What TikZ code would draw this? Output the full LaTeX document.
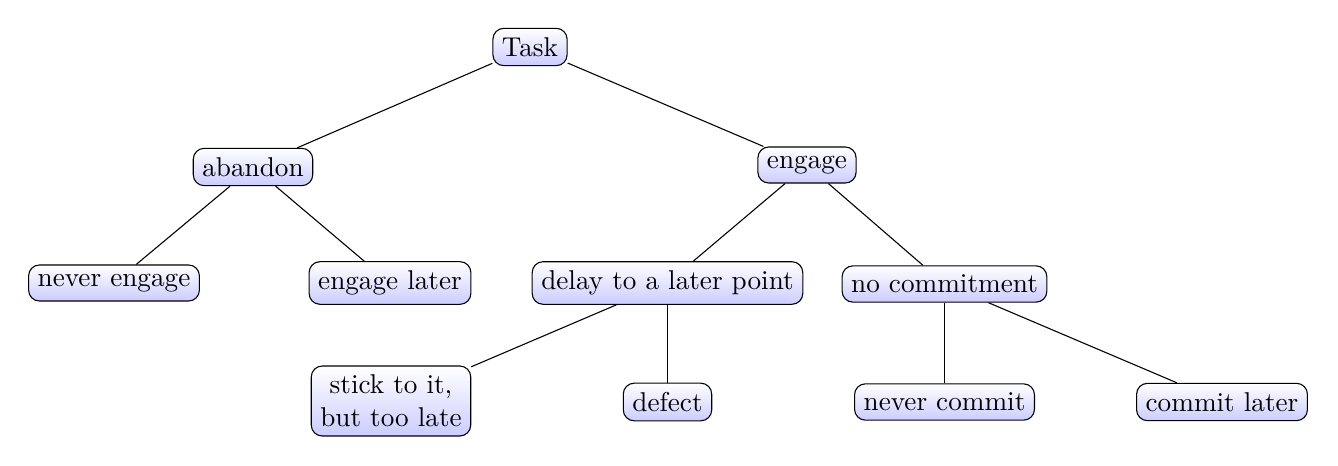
\documentclass[tikz,border=0pt]{standalone}
\begin{document}
\begin{tikzpicture}[x=0.3676pt,y=-0.3676pt,
  tnode/.style={draw,rounded corners=4pt,top color=white,bottom color=blue!20,align=center}]
\useasboundingbox (0,0) rectangle (1338,466);
\node[tnode] (task) at (530,47) {Task};
\node[tnode] (abandon) at (253,167) {abandon};
\node[tnode] (engage) at (807,165) {engage};
\node[tnode] (never) at (114,283) {never engage};
\node[tnode] (later) at (390,283) {engage later};
\node[tnode] (delay) at (667.5,283) {delay to a later point};
\node[tnode] (nocom) at (944.5,284) {no commitment};
\node[tnode] (stick) at (391,401) {stick to it,\\but too late};
\node[tnode] (defect) at (667.5,402) {defect};
\node[tnode] (nevercom) at (944.5,402) {never commit};
\node[tnode] (comlater) at (1222,402) {commit later};
\draw (task) -- (abandon);
\draw (task) -- (engage);
\draw (abandon) -- (never);
\draw (abandon) -- (later);
\draw (engage) -- (delay);
\draw (engage) -- (nocom);
\draw (delay) -- (stick);
\draw (delay) -- (defect);
\draw (nocom) -- (nevercom);
\draw (nocom) -- (comlater);
\end{tikzpicture}
\end{document}
